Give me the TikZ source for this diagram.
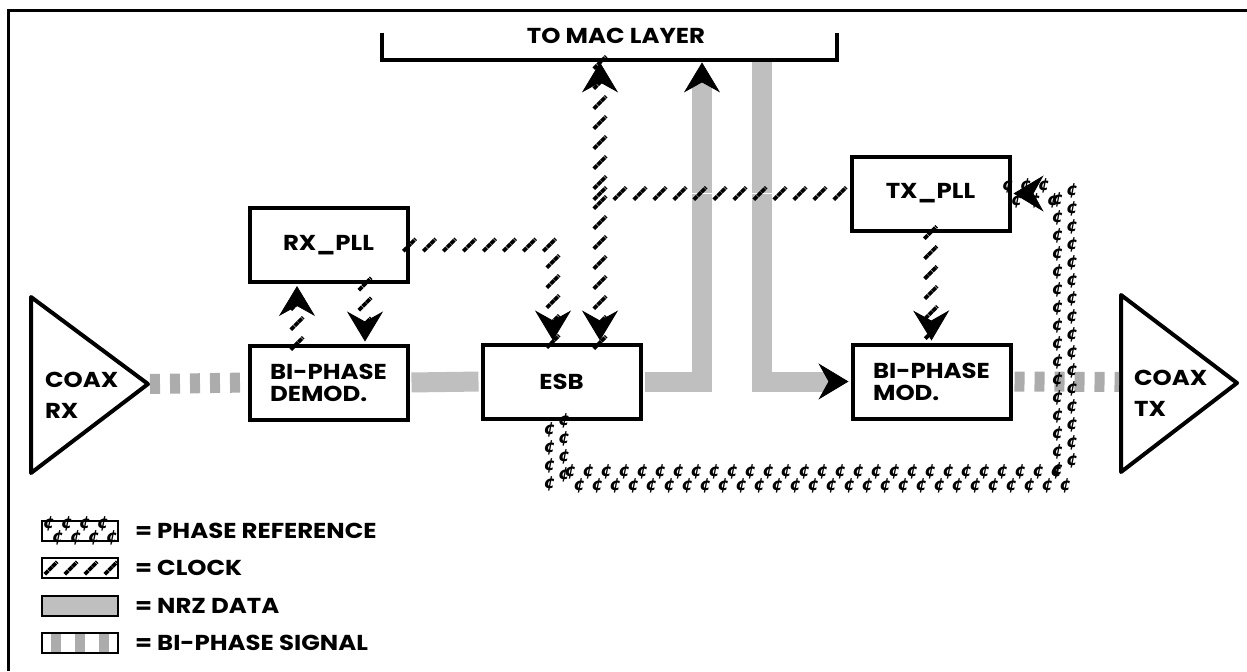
\documentclass[tikz,border=0pt]{standalone}
\usepackage{fontspec}
\setmainfont{Poppins}[FakeStretch=1.13]
\newfontfamily\centfont{DejaVu Sans}
\usetikzlibrary{arrows.meta,decorations.markings}

\tikzset{
  block/.style={draw, line width=2pt, minimum width=79pt, minimum height=37pt, align=left},
  swatch/.style={draw, line width=1pt, minimum width=38pt, minimum height=10pt, inner sep=0pt},
  nrzline/.style={draw=gray!50, line width=10pt, shorten <=1pt, shorten >=1pt},
  biphaseline/.style={draw=gray!65, line width=10pt, dash pattern=on 5pt off 5pt, shorten <=1pt, shorten >=1pt},
  clockline/.style={draw=white, line width=0.4pt, shorten <=1pt, shorten >=1pt,
    postaction={decorate, decoration={markings,
      mark=between positions 0 and 1 step 10pt with {\pgftransformresetnontranslations
        \draw[black, -, line width=1.9pt, dash pattern=on 2.4pt off 0.3pt] (-3.8pt,-3.8pt) -- (3.8pt,3.8pt);}}}},
  cent/.style={inner sep=0pt, font=\centfont\bfseries\itshape\fontsize{8.5}{8.5}\selectfont},
  phaseline/.style={draw=white, line width=0.4pt, shorten <=1pt, shorten >=1pt,
    postaction={decorate, decoration={markings,
      mark=between positions 0 and 1 step 9pt with {
        \node[cent] at (0pt,3.6pt) {¢}; \node[cent] at (4.5pt,-3.6pt) {¢};}}}},
}

\begin{document}
\begin{tikzpicture}[x=0.5pt, y=-0.5pt, font=\bfseries\fontsize{10.8}{11}\selectfont,
    >={Stealth[length=15pt, width=18pt, inset=5pt, line width=0.4pt, color=black]}]
    \useasboundingbox (0,0) rectangle (1247,671);
    \draw[line width=1.5pt] (8,671) -- (8,10) -- (1247,10);

    % blocks
    \node (rxpll) [block] at (328.5, 245) {RX\_PLL};
    \node (demod) [block] at (328.5, 382.5) {BI-PHASE\\DEMOD.};
    \node (esb) [block] at (561.5, 381.5) {ESB};
    \node (mod) [block] at (931.5, 381.5) {BI-PHASE\\MOD.};
    \node (txpll) [block] at (930.5, 193.5) {TX\_PLL};

    % mac layer bracket
    \node (mac) [minimum width=227.5pt, minimum height=13.5pt] at (609.5, 46.5) {};
    \node (mactext) at (616, 36) {TO MAC LAYER};
    \draw[line width=2pt] (mac.north west) |- (mac.south east) -- (mac.north east);

    % coax triangles
    \draw[line width=2pt, line join=round] (31,297) -- (148,384) -- (31,473) -- cycle;
    \node (rxtext) [anchor=west, align=left] at (38, 395) {COAX\\[4.5pt]RX};
    \coordinate (rxout) at (148, 384);
    \draw[line width=2pt, line join=round] (1121,295) -- (1237,383) -- (1121,472) -- cycle;
    \node (txtext) [anchor=west, align=left] at (1127, 393) {COAX\\[4.5pt]TX};
    \coordinate (txin) at (1121, 382);

    % columns
    \coordinate (a1) at (297, 0);
    \coordinate (a2) at (365, 0);
    \coordinate (c1) at (553, 0);
    \coordinate (c2) at (600, 0);
    \coordinate (d1) at (702, 0);
    \coordinate (d2) at (762, 0);
    \coordinate (p1) at (557, 479);
    \coordinate (p2) at (1065, 479);

    \draw[biphaseline] (rxout) -- (demod.west);
    \draw[biphaseline] (mod.east) -- (txin);
    \draw[nrzline] (demod.east) -- (esb.west);
    \draw[nrzline, ->] (esb.east) -| (mac.south -| d1);
    \draw[nrzline, ->] (mac.south -| d2) |- (mod.west);
    \draw[clockline, ->] (demod.north -| a1) -- (rxpll.south -| a1);
    \draw[clockline, ->] (rxpll.south -| a2) -- (demod.north -| a2);
    \draw[clockline, ->] (rxpll.east) -| (esb.north -| c1);
    \draw[clockline, <->] (esb.north -| c2) -- (mac.south -| c2);
    \draw[clockline] (txpll.west -| c2) -- (txpll.west);
    \draw[clockline, ->] (txpll.south) -- (mod.north);
    \draw[phaseline, ->] (esb.south -| p1) -- (p1) -- (p2) |- (txpll.east);

    % legend
    \node (lgphase) [swatch] at (80, 531) {};
    \node (lgclock) [swatch] at (80, 568) {};
    \node (lgnrz) [swatch] at (80, 606) {};
    \node (lgbiphase) [swatch] at (80, 643) {};
    \draw[phaseline] ([xshift=4pt]lgphase.west) -- ([xshift=-8pt]lgphase.east);
    \draw[clockline] ([xshift=5pt]lgclock.west) -- (lgclock.east);
    \draw[nrzline, line width=9pt] (lgnrz.west) -- (lgnrz.east);
    \draw[biphaseline, line width=9pt, dash pattern=on 5pt off 7pt, dash phase=-4pt] (lgbiphase.west) -- (lgbiphase.east);
    \node (lgphasetext) [anchor=west] at (128, 531) {= PHASE REFERENCE};
    \node (lgclocktext) [anchor=west] at (128, 568) {= CLOCK};
    \node (lgnrztext) [anchor=west] at (128, 606) {= NRZ DATA};
    \node (lgbiphasetext) [anchor=west] at (128, 643) {= BI-PHASE SIGNAL};
\end{tikzpicture}
\end{document}
